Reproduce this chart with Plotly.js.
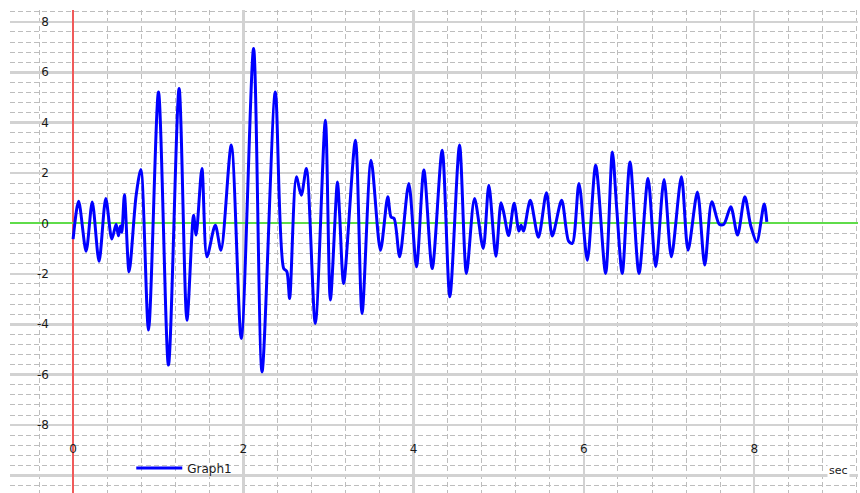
<!DOCTYPE html>
<html>
<head>
<meta charset="utf-8">
<script src="https://cdn.plot.ly/plotly-3.0.1.min.js"></script>
<style>html,body{margin:0;padding:0;background:#fff;}#chart{width:860px;height:493px;}</style>
</head>
<body>
<div id="chart"></div>
<script>
// time (sec)
const t = [0.000, 0.065, 0.153, 0.225, 0.305, 0.384, 0.455, 0.505, 0.533, 0.555, 0.572, 0.603, 0.658, 0.740, 0.796, 0.886, 1.003, 1.120, 1.245, 1.337, 1.415, 1.445, 1.513, 1.572, 1.670, 1.737, 1.858, 1.975, 2.120, 2.219, 2.375, 2.473, 2.510, 2.543, 2.622, 2.680, 2.740, 2.845, 2.963, 3.022, 3.105, 3.130, 3.178, 3.316, 3.394, 3.500, 3.610, 3.696, 3.735, 3.770, 3.836, 3.943, 4.033, 4.120, 4.218, 4.335, 4.425, 4.539, 4.620, 4.715, 4.817, 4.883, 4.966, 5.026, 5.060, 5.115, 5.180, 5.236, 5.262, 5.290, 5.370, 5.465, 5.560, 5.628, 5.738, 5.820, 5.864, 5.942, 6.040, 6.138, 6.255, 6.334, 6.385, 6.450, 6.541, 6.647, 6.753, 6.843, 6.941, 7.027, 7.145, 7.223, 7.333, 7.419, 7.502, 7.590, 7.643, 7.725, 7.804, 7.890, 7.960, 8.030, 8.117, 8.148];
// Graph1 values
const graph1 = [-0.62, 0.88, -1.1, 0.85, -1.5, 0.99, -0.62, -0.03, -0.49, -0.1, -0.35, 1.14, -1.92, 1.1, 2.14, -4.23, 5.22, -5.62, 5.36, -3.84, 0.33, -0.46, 2.18, -1.32, -0.07, -1.06, 3.11, -4.56, 6.94, -5.89, 5.22, -1.78, -1.9, -2.98, 1.85, 1.12, 2.18, -3.97, 4.10, -3.04, 1.65, 0.4, -2.38, 3.30, -3.57, 2.51, -1.06, 1.06, 0.25, 0.2, -1.32, 1.59, -1.72, 2.12, -1.79, 2.91, -2.91, 3.11, -1.98, 0.99, -0.99, 1.52, -1.3, 0.82, 0.4, -0.48, 0.8, -0.3, -0.07, -0.3, 0.92, -0.55, 1.22, -0.5, 0.92, -0.7, -0.79, 1.59, -1.46, 2.31, -1.98, 2.84, 0.6, -1.98, 2.44, -1.98, 1.79, -1.72, 1.75, -1.32, 1.85, -1.06, 1.25, -1.65, 0.86, -0.03, -0.03, 0.66, -0.46, 1.06, -0.1, -0.73, 0.77, 0.06];

const xTickVals = [0, 2, 4, 6, 8];
const xTickText = ['0', '2', '4', '6', '8'];
const yTickVals = [-10, -8, -6, -4, -2, 0, 2, 4, 6, 8];
const yTickText = ['', '-8', '-6', '-4', '-2', '0', '2', '4', '6', '8'];
const seriesName = 'Graph1';
const xUnit = 'sec';

const tickFont = {family: 'DejaVu Sans, Verdana, sans-serif', size: 12, color: '#1a1a1a'};
const majorGrid = '#d2d2d2';
const minorGrid = '#bdbdbd';

const trace = {
  x: t, y: graph1, type: 'scatter', mode: 'lines', name: seriesName,
  line: {color: '#0000ff', width: 3, shape: 'spline', smoothing: 0.8}
};

const layout = {
  width: 860, height: 493,
  margin: {l: 10, r: 2, t: 10, b: 0, pad: 0},
  paper_bgcolor: '#ffffff', plot_bgcolor: '#ffffff',
  showlegend: true,
  legend: {
    orientation: 'h', x: 0.143, y: 0.052, xanchor: 'left', yanchor: 'middle',
    bgcolor: 'rgba(0,0,0,0)', font: tickFont, itemwidth: 46
  },
  xaxis: {
    range: [-0.741, 9.219], anchor: 'free', position: 0.11,
    tickmode: 'array', tickvals: xTickVals, ticktext: xTickText,
    ticks: '', showline: false, tickfont: tickFont,
    showgrid: true, gridcolor: majorGrid, gridwidth: 2.5,
    zeroline: true, zerolinecolor: '#f05a5a', zerolinewidth: 2,
    minor: {dtick: 0.4, tick0: 0, showgrid: true, gridcolor: minorGrid, gridwidth: 1, griddash: '5px,3px', ticks: ''},
    fixedrange: true
  },
  yaxis: {
    range: [-10.695, 8.472], anchor: 'free', position: 0.046,
    tickmode: 'array', tickvals: yTickVals, ticktext: yTickText,
    ticks: '', showline: false, tickfont: tickFont,
    showgrid: true, gridcolor: majorGrid, gridwidth: 2.5,
    zeroline: true, zerolinecolor: '#5fdc4a', zerolinewidth: 2,
    minor: {dtick: 0.4, tick0: 0, showgrid: true, gridcolor: minorGrid, gridwidth: 1, griddash: '5px,3px', ticks: ''},
    fixedrange: true
  },
  annotations: [{
    text: xUnit, xref: 'paper', yref: 'paper', x: 0.977, y: 0.046,
    xanchor: 'center', yanchor: 'middle', showarrow: false,
    font: {family: 'DejaVu Sans, Verdana, sans-serif', size: 11, color: '#1a1a1a'},
    bgcolor: '#ffffff'
  }]
};

Plotly.newPlot('chart', [trace], layout, {displayModeBar: false, staticPlot: true});
</script>
</body>
</html>
